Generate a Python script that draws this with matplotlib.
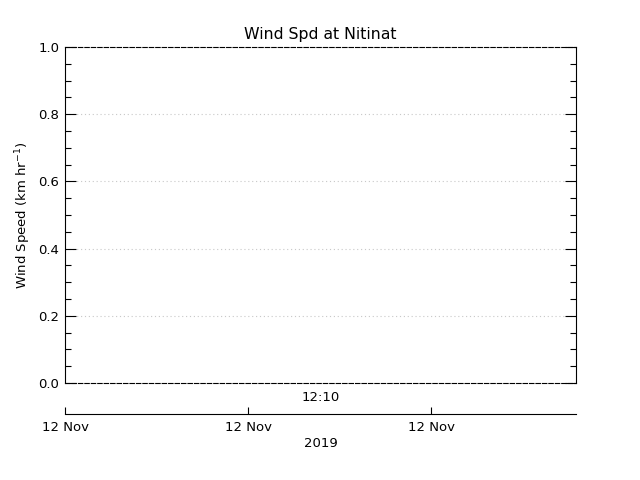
import matplotlib
matplotlib.use("Agg")
import matplotlib.pyplot as plt
from matplotlib.ticker import MultipleLocator

title = "Wind Spd at Nitinat"
ylabel = "Wind Speed (km hr$^{-1}$)"
y_ticks = [0.0, 0.2, 0.4, 0.6, 0.8, 1.0]
y_tick_labels = ["0.0", "0.2", "0.4", "0.6", "0.8", "1.0"]
x_ticks = [0, 1, 2]
x_tick_labels = ["12 Nov", "12 Nov", "12 Nov"]
x_limits = (0, 2.79)
time_label = "12:10"
year_label = "2019"
wind_time = []
wind_speed = []

plt.rcParams['font.family'] = ['DejaVu Sans']
plt.rcParams['mathtext.fontset'] = 'dejavusans'
fs = 9.5

fig = plt.figure(figsize=(6.4, 4.8), dpi=100)
W, H = 640, 480
ax = fig.add_axes([65 / W, (H - 383) / H, 511 / W, 336 / H])
ax.plot(wind_time, wind_speed, color='black', lw=1)
ax.set_xlim(*x_limits)
ax.set_ylim(0, 1)
ax.set_yticks(y_ticks)
ax.set_yticklabels(y_tick_labels, fontsize=fs)
ax.yaxis.set_minor_locator(MultipleLocator(0.05))
ax.tick_params(axis='y', which='major', direction='in', length=8, width=0.8,
               left=True, right=True, pad=4, color='black')
ax.tick_params(axis='y', which='minor', direction='in', length=4.5, width=0.8,
               left=True, right=True)
ax.tick_params(axis='x', which='both', bottom=False, top=False, labelbottom=False)
for yv in y_ticks[1:-1]:
    ax.axhline(yv, color='#c8c8c8', lw=0.8, linestyle=(0, (1, 2.5)), zorder=0)
for s in ['top', 'bottom']:
    ax.spines[s].set_linestyle((0, (4, 1.8)))
    ax.spines[s].set_linewidth(0.8)
for s in ['left', 'right']:
    ax.spines[s].set_linewidth(0.8)
ax.set_title(title, fontsize=11.3, pad=6)
ax.set_ylabel(ylabel, fontsize=fs)
ax.yaxis.set_label_coords((33 - 65) / 511, 0.5)
ax.text(0.5, -0.025, time_label, transform=ax.transAxes, ha='center', va='top', fontsize=fs)

ax2 = fig.add_axes([65 / W, (H - 414) / H, 511 / W, 1e-6])
ax2.set_xlim(*x_limits)
ax2.set_yticks([])
for s in ['top', 'left', 'right']:
    ax2.spines[s].set_visible(False)
ax2.spines['bottom'].set_linewidth(0.8)
ax2.set_xticks(x_ticks)
ax2.set_xticklabels(x_tick_labels, fontsize=fs)
ax2.tick_params(axis='x', direction='in', length=5, width=0.8, pad=5)
ax2.set_xlabel(year_label, fontsize=fs, labelpad=2)

fig.savefig("out.png", dpi=100)
